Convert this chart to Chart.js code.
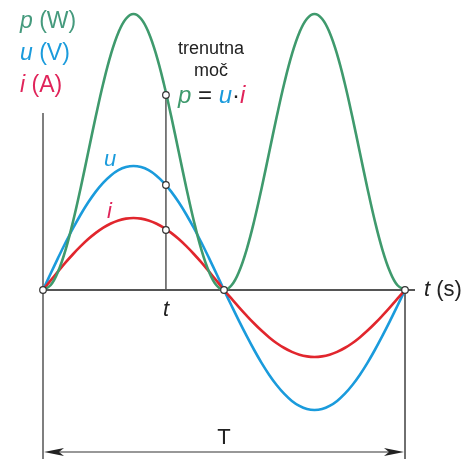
<!DOCTYPE html>
<html>
<head>
<meta charset="utf-8">
<script src="https://cdn.jsdelivr.net/npm/chart.js@4"></script>
<style>
  html, body { margin: 0; padding: 0; background: #fff; }
  canvas { display: block; }
</style>
</head>
<body>
<canvas id="moc" width="476" height="459"></canvas>
<script>
// one period T split in 48 steps (7.5° each)
const steps = Array.from({ length: 49 }, (_, k) => k);
const uVals = [
  0, 0.162, 0.321, 0.475, 0.620, 0.755, 0.877, 0.984, 1.074, 1.146, 1.198, 1.229,
  1.240, 1.229, 1.198, 1.146, 1.074, 0.984, 0.877, 0.755, 0.620, 0.475, 0.321, 0.162,
  0, -0.157, -0.311, -0.459, -0.600, -0.731, -0.849, -0.952, -1.039, -1.109, -1.159, -1.190,
  -1.200, -1.190, -1.159, -1.109, -1.039, -0.952, -0.849, -0.731, -0.600, -0.459, -0.311, -0.157, 0
];
const iVals = [
  0, 0.094, 0.186, 0.276, 0.360, 0.438, 0.509, 0.571, 0.624, 0.665, 0.695, 0.714,
  0.720, 0.714, 0.695, 0.665, 0.624, 0.571, 0.509, 0.438, 0.360, 0.276, 0.186, 0.094,
  0, -0.087, -0.173, -0.256, -0.335, -0.408, -0.474, -0.532, -0.580, -0.619, -0.647, -0.664,
  -0.670, -0.664, -0.647, -0.619, -0.580, -0.532, -0.474, -0.408, -0.335, -0.256, -0.173, -0.087, 0
];
const pVals = [
  0, 0.047, 0.185, 0.404, 0.690, 1.023, 1.380, 1.737, 2.070, 2.356, 2.575, 2.713,
  2.760, 2.713, 2.575, 2.356, 2.070, 1.737, 1.380, 1.023, 0.690, 0.404, 0.185, 0.047,
  0, 0.047, 0.185, 0.404, 0.690, 1.023, 1.380, 1.737, 2.070, 2.356, 2.575, 2.713,
  2.760, 2.713, 2.575, 2.356, 2.070, 1.737, 1.380, 1.023, 0.690, 0.404, 0.185, 0.047, 0
];

// trenutek t in vrednosti na krivuljah
const tMark = 16.3;
const markVals = [1.95, 1.05, 0.60];
const zeroSteps = [0, 24, 48];

const GREEN = "#3f9a6d";
const BLUE = "#1a9bdc";
const RED = "#e1262d";
const AXIS = "#555";
const FONT = "'Liberation Sans', Arial, sans-serif";

const pts = (vals) => steps.map((s, k) => ({ x: s, y: vals[k] }));

const curve = (vals, color) => ({
  data: pts(vals),
  borderColor: color,
  borderWidth: 2.6,
  pointRadius: 0,
  tension: 0.4,
  fill: false
});

const marker = (data) => ({
  data: data,
  showLine: false,
  pointRadius: 3.3,
  pointBackgroundColor: "#fff",
  pointBorderColor: "#333",
  pointBorderWidth: 1.2
});

function label(ctx, parts, x, y, size) {
  // parts: [text, color, italic]
  let cx = x;
  parts.forEach(([txt, col, it]) => {
    ctx.font = (it ? "italic " : "") + size + "px " + FONT;
    ctx.fillStyle = col;
    ctx.fillText(txt, cx, y);
    cx += ctx.measureText(txt).width;
  });
}

function arrowHead(ctx, x, y, dir) {
  ctx.beginPath();
  ctx.moveTo(x, y);
  ctx.lineTo(x + dir * 20, y - 4);
  ctx.lineTo(x + dir * 15, y);
  ctx.lineTo(x + dir * 20, y + 4);
  ctx.closePath();
  ctx.fill();
}

const drawing = {
  id: "drawing",
  beforeDatasetsDraw(chart) {
    const ctx = chart.ctx;
    const xs = chart.scales.x, ys = chart.scales.y;
    const x0 = xs.getPixelForValue(0), xT = xs.getPixelForValue(48);
    const y0 = ys.getPixelForValue(0);
    const xt = xs.getPixelForValue(tMark);
    ctx.save();
    ctx.strokeStyle = AXIS;
    ctx.lineWidth = 1.5;
    ctx.beginPath();
    ctx.moveTo(x0, 113); ctx.lineTo(x0, 459);
    ctx.stroke();
    ctx.lineWidth = 2;
    ctx.beginPath();
    ctx.moveTo(x0, y0); ctx.lineTo(x0 + 372, y0);
    ctx.stroke();
    ctx.strokeStyle = "#222";
    ctx.lineWidth = 1.3;
    ctx.beginPath();
    ctx.moveTo(xT, y0); ctx.lineTo(xT, 459);
    ctx.stroke();
    ctx.strokeStyle = AXIS;
    ctx.lineWidth = 1.5;
    ctx.beginPath();
    ctx.moveTo(xt, ys.getPixelForValue(markVals[0])); ctx.lineTo(xt, y0);
    ctx.stroke();
    // dimension T
    ctx.strokeStyle = "#333";
    ctx.lineWidth = 1.2;
    ctx.beginPath();
    ctx.moveTo(x0 + 10, 452); ctx.lineTo(xT - 10, 452);
    ctx.stroke();
    ctx.fillStyle = "#222";
    arrowHead(ctx, x0 + 1, 452, 1);
    arrowHead(ctx, xT - 1, 452, -1);
    ctx.restore();
  },
  afterDraw(chart) {
    const ctx = chart.ctx;
    const xs = chart.scales.x, ys = chart.scales.y;
    const xt = xs.getPixelForValue(tMark);
    const y0 = ys.getPixelForValue(0);
    ctx.save();
    ctx.textBaseline = "alphabetic";
    ctx.textAlign = "left";
    label(ctx, [["p", "#459a7d", true], [" (W)", "#459a7d", false]], 20, 28, 23);
    label(ctx, [["u", BLUE, true], [" (V)", BLUE, false]], 20, 60, 23);
    label(ctx, [["i", "#e0245a", true], [" (A)", "#e0245a", false]], 20, 92, 23);
    label(ctx, [["u", BLUE, true]], 104, 166, 22);
    label(ctx, [["i", "#e0245a", true]], 107, 218, 22);
    label(ctx, [["p", GREEN, true], [" = ", "#222", false], ["u", BLUE, true], ["·", "#222", false], ["i", "#e0245a", true]], 178, 103, 24);
    label(ctx, [["t", "#222", true], [" (s)", "#222", false]], 424, 296, 22);
    ctx.textAlign = "center";
    ctx.font = "18px " + FONT;
    ctx.fillStyle = "#222";
    ctx.fillText("trenutna", 211, 54);
    ctx.fillText("moč", 211, 76);
    ctx.font = "italic 22px " + FONT;
    ctx.fillText("t", xt, y0 + 26);
    ctx.font = "22px " + FONT;
    ctx.fillText("T", (xs.getPixelForValue(0) + xs.getPixelForValue(48)) / 2, 444);
    ctx.restore();
  }
};

new Chart(document.getElementById("moc"), {
  type: "line",
  data: {
    datasets: [
      marker(zeroSteps.map(s => ({ x: s, y: 0 })).concat(markVals.map(v => ({ x: tMark, y: v })))),
      curve(pVals, GREEN),
      curve(iVals, RED),
      curve(uVals, BLUE)
    ]
  },
  options: {
    responsive: false,
    animation: false,
    layout: { padding: 0, autoPadding: false },
    plugins: { legend: { display: false }, tooltip: { enabled: false } },
    scales: {
      x: { type: "linear", min: -5.702, max: 57.414, display: false },
      y: { type: "linear", min: -1.69, max: 2.90, display: false }
    }
  },
  plugins: [drawing]
});
</script>
</body>
</html>
